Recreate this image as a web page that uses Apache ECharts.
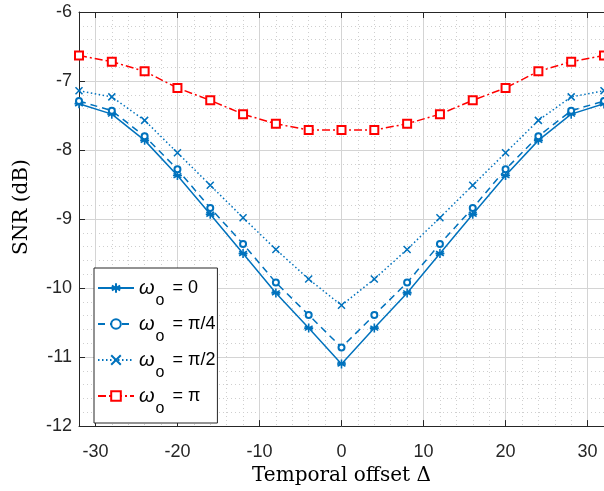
<!DOCTYPE html>
<html>
<head>
<meta charset="utf-8">
<script src="https://cdn.jsdelivr.net/npm/echarts@6/dist/echarts.min.js"></script>
<style>
  html, body { margin: 0; padding: 0; background: #fff; }
  #chart { width: 604px; height: 491px; }
</style>
</head>
<body>
<div id="chart"></div>
<script>
// temporal offsets
const offsets = [-32, -28, -24, -20, -16, -12, -8, -4, 0, 4, 8, 12, 16, 20, 24, 28, 32];

// SNR (dB) per curve
const snrW0 = [-7.33, -7.48, -7.86, -8.37, -8.93, -9.50, -10.07, -10.58, -11.10,
  -10.58, -10.07, -9.50, -8.93, -8.37, -7.86, -7.48, -7.33];
const snrWpi4 = [-7.29, -7.43, -7.80, -8.28, -8.84, -9.36, -9.92, -10.39, -10.86,
  -10.39, -9.92, -9.36, -8.84, -8.28, -7.80, -7.43, -7.29];
const snrWpi2 = [-7.14, -7.23, -7.57, -8.04, -8.51, -8.98, -9.44, -9.87, -10.25,
  -9.87, -9.44, -8.98, -8.51, -8.04, -7.57, -7.23, -7.14];
const snrWpi = [-6.63, -6.72, -6.86, -7.10, -7.28, -7.48, -7.62, -7.71, -7.71,
  -7.71, -7.62, -7.48, -7.28, -7.10, -6.86, -6.72, -6.63];

const legendNames = ['0', 'π/4', 'π/2', 'π'];

const blue = '#0072BD';
const red = '#FF0000';

const asterisk = 'path://M0,-1L0,1M-0.87,-0.5L0.87,0.5M-0.87,0.5L0.87,-0.5M-1,0L1,0';
const cross = 'path://M-1,-1L1,1M-1,1L1,-1';

function pairs(ys) {
  return offsets.map(function (x, i) { return [x, ys[i]]; });
}

function makeSeries(name, ys, color, type, symbol, size, bw) {
  return {
    name: name,
    type: 'line',
    data: pairs(ys),
    symbol: symbol,
    symbolSize: size,
    showAllSymbol: true,
    lineStyle: { color: color, width: 1.5, type: type },
    itemStyle: { color: color, borderColor: color, borderWidth: bw },
    emphasis: { disabled: true },
    animation: false
  };
}

const chart = echarts.init(document.getElementById('chart'));
chart.setOption({
  animation: false,
  grid: { left: 79, top: 12, right: -4, bottom: 59 },
  legend: {
    orient: 'vertical',
    left: 94,
    top: 268,
    padding: [10, 2, 6, 3],
    itemGap: 5,
    itemWidth: 36,
    itemHeight: 12,
    backgroundColor: '#fff',
    borderColor: '#262626',
    borderWidth: 1,
    borderRadius: 0,
    data: legendNames,
    formatter: function (n) { return '{w|ω}{s|o}{t| = ' + n + '}'; },
    textStyle: {
      color: '#000',
      rich: {
        w: { fontFamily: 'Liberation Sans', fontStyle: 'italic', fontSize: 20 },
        s: { fontFamily: 'Liberation Sans', fontSize: 16, padding: [26, 0, 0, 1] },
        t: { fontFamily: 'Liberation Sans', fontSize: 18, padding: [0, 0, 0, 3] }
      }
    }
  },
  xAxis: [
    {
      type: 'value',
      min: -32,
      max: 32,
      name: 'Temporal offset Δ',
      nameLocation: 'middle',
      nameGap: 37,
      nameTextStyle: { fontFamily: 'DejaVu Serif', fontSize: 20, color: '#000' },
      axisLine: { onZero: false, lineStyle: { color: '#262626', width: 1 } },
      axisTick: { inside: true, length: 6, lineStyle: { color: '#262626' } },
      axisLabel: {
        showMinLabel: false, showMaxLabel: false,
        fontFamily: 'Liberation Sans', fontSize: 18, color: '#262626', margin: 17
      },
      splitLine: { show: true, lineStyle: { color: '#d4d4d4', width: 1 } }
    },
    {
      type: 'value',
      position: 'top',
      min: -32,
      max: 32,
      axisLine: { onZero: false, lineStyle: { color: '#262626', width: 1 } },
      axisTick: { inside: true, length: 6, lineStyle: { color: '#262626' } },
      axisLabel: { show: false },
      splitLine: { show: false }
    },
    {
      type: 'value',
      min: -32,
      max: 32,
      interval: 2,
      axisLine: { show: false },
      axisTick: { show: false },
      axisLabel: { show: false },
      splitLine: { show: true, lineStyle: { color: '#cfcfcf', width: 1, type: [1, 3] } },
      z: -1
    }
  ],
  yAxis: {
    type: 'value',
    min: -12,
    max: -6,
    interval: 1,
    name: 'SNR (dB)',
    nameLocation: 'middle',
    nameGap: 47,
    nameTextStyle: { fontFamily: 'DejaVu Serif', fontSize: 20, color: '#000', padding: [0, 0, 0, 24] },
    axisLine: { show: true, onZero: false, lineStyle: { color: '#262626', width: 1 } },
    axisTick: { show: true, inside: true, length: 6, lineStyle: { color: '#262626' } },
    axisLabel: { fontFamily: 'Liberation Sans', fontSize: 18, color: '#262626', margin: 7 },
    splitLine: { show: true, lineStyle: { color: '#d4d4d4', width: 1 } },
    minorTick: { show: false, splitNumber: 5 },
    minorSplitLine: { show: true, lineStyle: { color: '#cfcfcf', width: 1, type: [1, 3] } }
  },
  series: [
    makeSeries(legendNames[0], snrW0, blue, 'solid', asterisk, 9, 1.6),
    makeSeries(legendNames[1], snrWpi4, blue, [7, 5], 'emptyCircle', 6, 1.3),
    makeSeries(legendNames[2], snrWpi2, blue, [1.5, 2.5], cross, 7, 1.5),
    makeSeries(legendNames[3], snrWpi, red, [8, 3, 2, 3], 'emptyRect', 8, 1.6)
  ]
});
</script>
</body>
</html>
